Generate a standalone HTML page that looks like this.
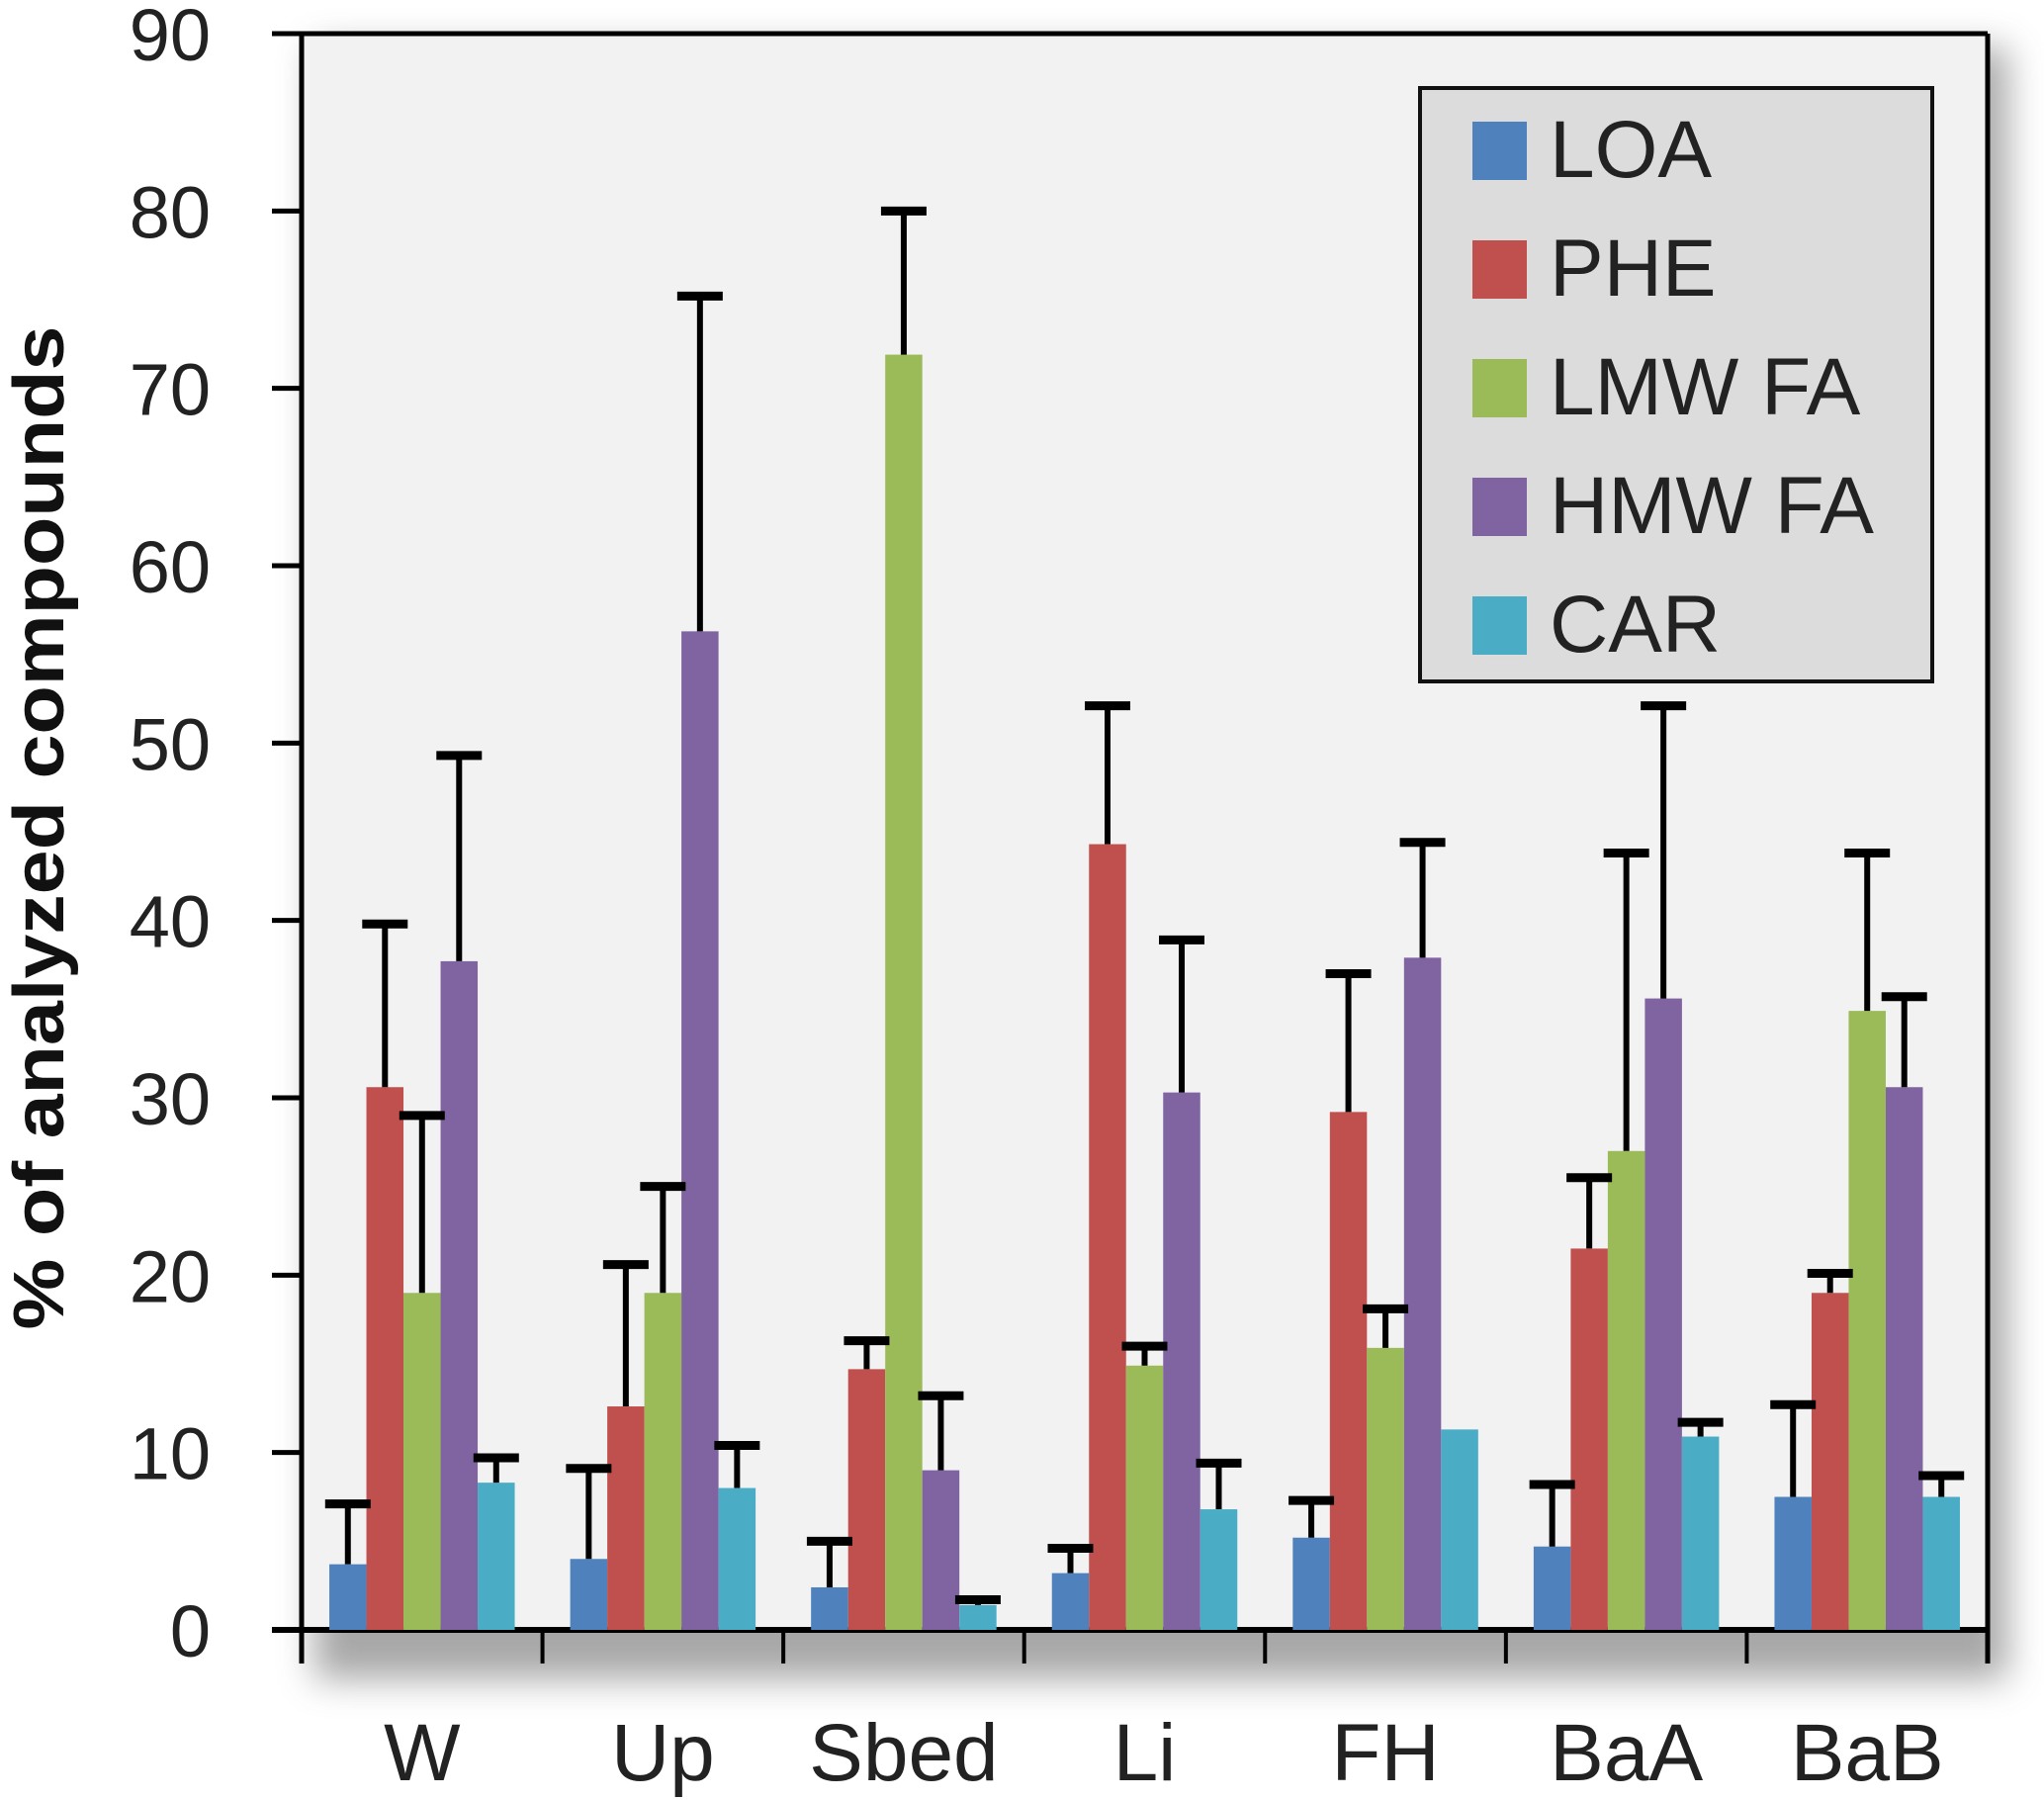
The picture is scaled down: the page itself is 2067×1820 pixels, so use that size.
<!DOCTYPE html>
<html><head><meta charset="utf-8"><style>
html,body{margin:0;padding:0;background:#fff;}
svg{display:block;font-family:"Liberation Sans",sans-serif;}
</style></head><body>
<svg id="chart" width="2067" height="1820" viewBox="0 0 2067 1820">
<defs>
<filter id="sh" x="-10%" y="-10%" width="130%" height="130%"><feGaussianBlur stdDeviation="18"/></filter>
</defs>
<rect x="318" y="48" width="1712" height="1650" fill="#8a8a8a" opacity="0.75" filter="url(#sh)"/>
<rect x="305" y="34" width="1705" height="1614" fill="#f2f2f2"/>
<g id="axes"></g>
<g id="bars"></g>
<g id="legend">
<rect x="1436" y="89" width="518" height="600" fill="#dcdcdc" stroke="#111" stroke-width="4"/>
</g>
<text transform="translate(64,837) rotate(-90)" text-anchor="middle" font-size="72" font-weight="bold" textLength="1015" lengthAdjust="spacingAndGlyphs" fill="#111">% of analyzed compounds</text>
</svg>
<script>
const categories = ["W","Up","Sbed","Li","FH","BaA","BaB"];
const seriesNames = ["LOA","PHE","LMW FA","HMW FA","CAR"];
const colors = ["#4f81bd","#c0504d","#9bbb59","#8064a2","#4bacc6"];
const loa = [3.7,4.0,2.4,3.2,5.2,4.7,7.5];
const loaErr = [7.1,9.1,5.0,4.6,7.3,8.2,12.7];
const phe = [30.6,12.6,14.7,44.3,29.2,21.5,19.0];
const pheErr = [39.8,20.6,16.3,52.1,37.0,25.5,20.1];
const lmw = [19.0,19.0,71.9,14.9,15.9,27.0,34.9];
const lmwErr = [29.0,25.0,80.0,16.0,18.1,43.8,43.8];
const hmw = [37.7,56.3,9.0,30.3,37.9,35.6,30.6];
const hmwErr = [49.3,75.2,13.2,38.9,44.4,52.1,35.7];
const car = [8.3,8.0,1.4,6.8,11.3,10.9,7.5];
const carErr = [9.7,10.4,1.7,9.4,11.3,11.7,8.7];
const yTicks = [0,10,20,30,40,50,60,70,80,90];

const values=[loa,phe,lmw,hmw,car];
const errs=[loaErr,pheErr,lmwErr,hmwErr,carErr];
const NS="http://www.w3.org/2000/svg";
const X0=305,X1=2010,Y0=1648,YT=34,YMAX=90;
const y=v=>Y0-(Y0-YT)*v/YMAX;
const catW=(X1-X0)/categories.length;
const barW=37.5;
const x=(ci,si)=>X0+catW*(ci+0.5)-barW*2.5+barW*si;
function mk(tag,attrs,parent){const e=document.createElementNS(NS,tag);for(const k in attrs)e.setAttribute(k,attrs[k]);parent.appendChild(e);return e;}
const axes=document.getElementById('axes'),bars=document.getElementById('bars'),legend=document.getElementById('legend');
yTicks.forEach(t=>{
 const l=mk('line',{x1:275,x2:X0,y1:y(t),y2:y(t),stroke:'#000','stroke-width':5},axes);
 
 
 const tx=mk('text',{x:213,y:y(t)+27,'text-anchor':'end','font-size':74,fill:'#222'},axes);
 tx.textContent=t;
 
 
});
const tb=mk('line',{x1:275,x2:X1,y1:YT,y2:YT,stroke:'#000','stroke-width':5},axes);


const rb=mk('line',{x1:X1,x2:X1,y1:YT,y2:1682,stroke:'#000','stroke-width':5},axes);


const ya=mk('line',{x1:X0,x2:X0,y1:YT,y2:1682,stroke:'#000','stroke-width':5},axes);


for(let i=1;i<categories.length;i++){
 const d=mk('line',{x1:X0+catW*i,x2:X0+catW*i,y1:Y0,y2:1682,stroke:'#000','stroke-width':4},axes);
 
 
}
categories.forEach((c,ci)=>{
 const t=mk('text',{x:X0+catW*(ci+0.5),y:1800,'text-anchor':'middle','font-size':82,fill:'#222'},axes);
 t.textContent=c;
 
 
});
categories.forEach((c,ci)=>{
 seriesNames.forEach((s,si)=>{
  const v=values[si][ci],bx=x(ci,si);
  const r=mk('rect',{x:bx,y:y(v),width:barW,height:Y0-y(v),fill:colors[si]},bars);
  
  
 });
});
categories.forEach((c,ci)=>{
 seriesNames.forEach((s,si)=>{
  const v=values[si][ci],e=errs[si][ci],cx=x(ci,si)+barW/2;
  if(e<=v)return;
  const st=mk('line',{x1:cx,x2:cx,y1:y(v),y2:y(e),stroke:'#000','stroke-width':6},bars);
  
  
  const cp=mk('line',{x1:cx-23,x2:cx+23,y1:y(e),y2:y(e),stroke:'#000','stroke-width':9},bars);
  
  
 });
});
const xa=mk('line',{x1:275,x2:X1,y1:Y0,y2:Y0,stroke:'#000','stroke-width':6},axes);


seriesNames.forEach((s,si)=>{
 const yy=123+120*si;
 const sw=mk('rect',{x:1489,y:yy,width:55,height:59,fill:colors[si]},legend);
 
 
 const t=mk('text',{x:1567,y:yy+56,'font-size':82,fill:'#222'},legend);
 t.textContent=s;
 
 
});
</script>
</body></html>
